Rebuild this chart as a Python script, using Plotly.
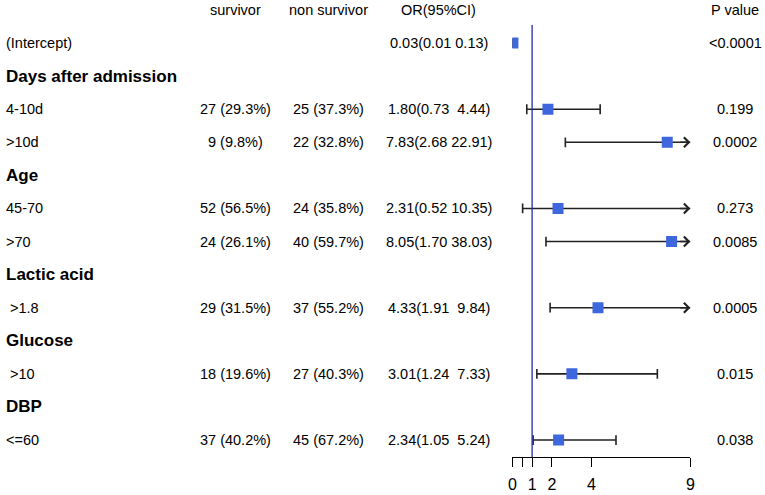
import plotly.graph_objects as go

# rows of the table (row 0 is the column header)
labels = ["(Intercept)", "Days after admission", "4-10d", ">10d", "Age", "45-70", ">70",
          "Lactic acid", " >1.8", "Glucose", " >10", "DBP", "<=60"]
is_group = [False, True, False, False, True, False, False, True, False, True, False, True, False]
survivor = ["", "", "27 (29.3%)", "9 (9.8%)", "", "52 (56.5%)", "24 (26.1%)", "",
            "29 (31.5%)", "", "18 (19.6%)", "", "37 (40.2%)"]
non_survivor = ["", "", "25 (37.3%)", "22 (32.8%)", "", "24 (35.8%)", "40 (59.7%)", "",
                "37 (55.2%)", "", "27 (40.3%)", "", "45 (67.2%)"]
or_ci = ["0.03(0.01 0.13)", "", "1.80(0.73  4.44)", "7.83(2.68 22.91)", "", "2.31(0.52 10.35)",
         "8.05(1.70 38.03)", "", "4.33(1.91  9.84)", "", "3.01(1.24  7.33)", "", "2.34(1.05  5.24)"]
p_values = ["<0.0001", "", "0.199", "0.0002", "", "0.273", "0.0085", "", "0.0005", "",
            "0.015", "", "0.038"]
headers = ["survivor", "non survivor", "OR(95%CI)", "P value"]

# estimates for the rows that have one
or_rows = [1, 3, 4, 6, 7, 9, 11, 13]
or_est = [0.03, 1.80, 7.83, 2.31, 8.05, 4.33, 3.01, 2.34]
or_low = [0.01, 0.73, 2.68, 0.52, 1.70, 1.91, 1.24, 1.05]
or_high = [0.13, 4.44, 22.91, 10.35, 38.03, 9.84, 7.33, 5.24]

tick_vals = [0, 0.5, 1, 2, 4, 9]
tick_text = ["0", "", "1", "2", "4", "9"]
x_max = 9

W, H = 765, 495
FIG_W = 770   # the page gets squeezed slightly in the capture, 770 lands on 765
FONT = "Liberation Sans, Arial, sans-serif"
line_col = "#222222"
box_col = "#3E66DD"
ref_col = "#2A2AA8"
TXT = 14.5   # plain text size
GRP = 17     # bold group labels

fig = go.Figure()

# CI lines (clipped at the axis end)
lx, ly = [], []
for r, lo, hi in zip(or_rows, or_low, or_high):
    lx += [lo, min(hi, x_max), None]
    ly += [r, r, None]
fig.add_trace(go.Scatter(x=lx, y=ly, mode="lines", line=dict(color=line_col, width=1.6),
                         hoverinfo="skip", showlegend=False))

# whisker caps
cap_x = list(or_low) + [h for h in or_high if h <= x_max]
cap_y = list(or_rows) + [r for r, h in zip(or_rows, or_high) if h <= x_max]
fig.add_trace(go.Scatter(x=cap_x, y=cap_y, mode="markers",
                         marker=dict(symbol="line-ns", size=7, line=dict(color=line_col, width=1.6)),
                         hoverinfo="skip", showlegend=False))

# boxes
fig.add_trace(go.Scatter(x=or_est, y=or_rows, mode="markers",
                         marker=dict(symbol="square", size=11, color=box_col, line=dict(width=0)),
                         showlegend=False))

# arrows for intervals running past the axis
for r, hi in zip(or_rows, or_high):
    if hi > x_max:
        fig.add_annotation(x=x_max, y=r, ax=x_max - 0.6, ay=r, xref="x", yref="y",
                           axref="x", ayref="y", text="", showarrow=True, arrowhead=4,
                           arrowsize=1.2, arrowwidth=1.6, arrowcolor=line_col, standoff=0)

# reference line at OR = 1
fig.add_shape(type="line", x0=1, x1=1, y0=0.45, y1=13.51, xref="x", yref="y",
              line=dict(color=ref_col, width=1.3))

# table text
col_x = [233, 326, 437, 735]
for cx, h in zip(col_x, headers):
    fig.add_annotation(x=cx / W, y=0, xref="paper", yref="y", text=h, showarrow=False,
                       xanchor="center", font=dict(family=FONT, size=TXT, color="black"))

for i, lab in enumerate(labels):
    r = i + 1
    txt = lab.replace(" ", "\u00a0")
    if is_group[i]:
        txt = "<b>" + txt + "</b>"
    fig.add_annotation(x=0, y=r, xref="paper", yref="y", text=txt, showarrow=False,
                       xanchor="left", font=dict(family=FONT, size=GRP if is_group[i] else TXT,
                                                 color="black"))
    for cx, col in zip(col_x, [survivor, non_survivor, or_ci, p_values]):
        if col[i]:
            fig.add_annotation(x=cx / W, y=r, xref="paper", yref="y",
                               text=col[i].replace(" ", "\u00a0"), showarrow=False,
                               xanchor="center", font=dict(family=FONT, size=TXT, color="black"))

fig.update_layout(
    width=FIG_W, height=H,
    margin=dict(l=0, r=0, t=0, b=0),
    plot_bgcolor="white", paper_bgcolor="white",
    xaxis=dict(domain=[511 / W, 690 / W], range=[0, x_max], tickvals=tick_vals, ticktext=tick_text,
               showline=True, linecolor="black", linewidth=1, ticks="outside", ticklen=9,
               tickcolor="black", tickwidth=1, showgrid=False, zeroline=False,
               tickfont=dict(family=FONT, size=16, color="black"), ticklabelstandoff=4),
    yaxis=dict(domain=[38 / H, 1], range=[13.513, -0.302], visible=False,
               showgrid=False, zeroline=False),
)

# drop the browser's default page margin so the figure sits at the window corner
fig.write_html("out.html", config={"displayModeBar": False},
               post_script="document.body.style.margin = '0';")
